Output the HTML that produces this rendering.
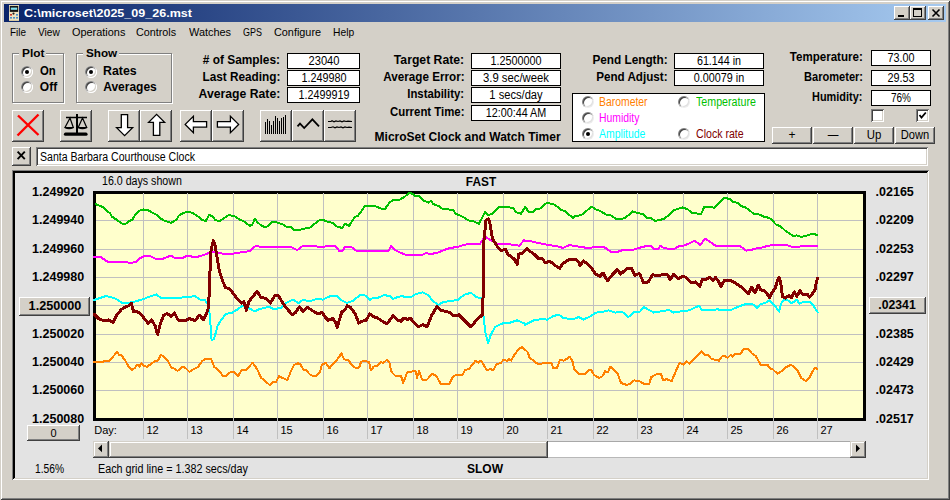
<!DOCTYPE html>
<html><head><meta charset="utf-8"><style>
html,body{margin:0;padding:0;width:950px;height:500px;overflow:hidden;background:#D4D0C8;}
body{position:relative;font-family:"Liberation Sans", sans-serif;}
div{box-sizing:content-box;}
</style></head><body>
<div style="position:absolute;left:0;top:0;width:950px;height:500px;background:#D4D0C8;box-shadow:inset 1px 1px #D4D0C8, inset -1px -1px #404040, inset 2px 2px #fff, inset -2px -2px #808080;"></div>
<div style="position:absolute;left:4px;top:4px;width:942px;height:18px;background:linear-gradient(to right,#0A246A,#A6CAF0);"></div>
<svg style="position:absolute;left:9px;top:5px" width="10" height="16" viewBox="0 0 10 16">
<rect x="0" y="0" width="10" height="16" fill="#EFE3C0"/>
<rect x="0" y="15" width="10" height="1" fill="#D8C8A0"/>
<rect x="0.8" y="0.9" width="8.4" height="6" fill="#141414"/>
<rect x="1.8" y="2.6" width="6.4" height="2.2" fill="#80E0F0"/>
<circle cx="4.5" cy="8.6" r="1.1" fill="#202020"/>
<rect x="1" y="9" width="2" height="1.6" fill="#C83828"/>
<rect x="7" y="9" width="2" height="1.6" fill="#4A90C8"/>
<rect x="1" y="12" width="2" height="1.6" fill="#4A90C8"/>
<rect x="4" y="12" width="2" height="1.6" fill="#4A90C8"/>
<rect x="7" y="12" width="2" height="1.6" fill="#4A90C8"/>
</svg>
<div style="position:absolute;top:8.07px;font-size:11.5px;line-height:11.5px;font-weight:bold;color:#fff;white-space:pre;left:23.8px;transform:scaleX(1.090);transform-origin:left 0;">C:\microset\2025_09_26.mst</div>
<div style="position:absolute;left:894px;top:6px;width:16px;height:14px;background:#D4D0C8;box-shadow:inset -1px -1px #404040, inset 1px 1px #fff, inset -2px -2px #808080, inset 2px 2px #D4D0C8;"></div>
<div style="position:absolute;left:910px;top:6px;width:16px;height:14px;background:#D4D0C8;box-shadow:inset -1px -1px #404040, inset 1px 1px #fff, inset -2px -2px #808080, inset 2px 2px #D4D0C8;"></div>
<div style="position:absolute;left:928px;top:6px;width:16px;height:14px;background:#D4D0C8;box-shadow:inset -1px -1px #404040, inset 1px 1px #fff, inset -2px -2px #808080, inset 2px 2px #D4D0C8;"></div>
<div style="position:absolute;left:898px;top:15px;width:6px;height:2px;background:#000;"></div>
<div style="position:absolute;left:913px;top:8px;width:7px;height:6px;border:1px solid #000;border-top-width:2px;"></div>
<svg style="position:absolute;left:928px;top:6px" width="16" height="14"><path d="M4.5 3.5 L11.5 10.5 M11.5 3.5 L4.5 10.5" stroke="#000" stroke-width="1.6"/></svg>
<div style="position:absolute;top:27.27px;font-size:11.5px;line-height:11.5px;font-weight:normal;color:#000;white-space:pre;left:9.5px;transform:scaleX(0.863);transform-origin:left 0;">File</div>
<div style="position:absolute;top:27.27px;font-size:11.5px;line-height:11.5px;font-weight:normal;color:#000;white-space:pre;left:37.9px;transform:scaleX(0.882);transform-origin:left 0;">View</div>
<div style="position:absolute;top:27.27px;font-size:11.5px;line-height:11.5px;font-weight:normal;color:#000;white-space:pre;left:71.6px;transform:scaleX(0.948);transform-origin:left 0;">Operations</div>
<div style="position:absolute;top:27.27px;font-size:11.5px;line-height:11.5px;font-weight:normal;color:#000;white-space:pre;left:136.4px;transform:scaleX(0.937);transform-origin:left 0;">Controls</div>
<div style="position:absolute;top:27.27px;font-size:11.5px;line-height:11.5px;font-weight:normal;color:#000;white-space:pre;left:188.8px;transform:scaleX(0.949);transform-origin:left 0;">Watches</div>
<div style="position:absolute;top:27.27px;font-size:11.5px;line-height:11.5px;font-weight:normal;color:#000;white-space:pre;left:242.7px;transform:scaleX(0.779);transform-origin:left 0;">GPS</div>
<div style="position:absolute;top:27.27px;font-size:11.5px;line-height:11.5px;font-weight:normal;color:#000;white-space:pre;left:273.7px;transform:scaleX(0.943);transform-origin:left 0;">Configure</div>
<div style="position:absolute;top:27.27px;font-size:11.5px;line-height:11.5px;font-weight:normal;color:#000;white-space:pre;left:332.6px;transform:scaleX(0.893);transform-origin:left 0;">Help</div>
<div style="position:absolute;left:12px;top:53px;width:50px;height:48px;border:1px solid #808080;box-shadow:1px 1px #fff, inset 1px 1px #fff;"></div>
<div style="position:absolute;left:19px;top:48px;width:27px;height:10px;background:#D4D0C8;"></div>
<div style="position:absolute;top:47.87px;font-size:11.5px;line-height:11.5px;font-weight:bold;color:#000;white-space:pre;left:21.6px;transform:scaleX(1.032);transform-origin:left 0;">Plot</div>
<div style="position:absolute;left:21px;top:65.5px;width:12px;height:12px;border-radius:50%;background:#fff;box-shadow:inset 1px 1px 0 0 #808080, inset -1px -1px 0 0 #fff;"></div>
<div style="position:absolute;left:22px;top:66.5px;width:10px;height:10px;border-radius:50%;box-shadow:inset 1px 1px 0 0 #404040, inset -1px -1px 0 0 #D4D0C8;"></div>
<div style="position:absolute;left:25px;top:69.5px;width:4px;height:4px;border-radius:50%;background:#000;"></div>
<div style="position:absolute;top:64.64px;font-size:12px;line-height:12px;font-weight:bold;color:#000;white-space:pre;left:39.8px;transform:scaleX(0.945);transform-origin:left 0;">On</div>
<div style="position:absolute;left:21px;top:81px;width:12px;height:12px;border-radius:50%;background:#fff;box-shadow:inset 1px 1px 0 0 #808080, inset -1px -1px 0 0 #fff;"></div>
<div style="position:absolute;left:22px;top:82px;width:10px;height:10px;border-radius:50%;box-shadow:inset 1px 1px 0 0 #404040, inset -1px -1px 0 0 #D4D0C8;"></div>
<div style="position:absolute;top:81.24px;font-size:12px;line-height:12px;font-weight:bold;color:#000;white-space:pre;left:39.8px;">Off</div>
<div style="position:absolute;left:76px;top:53px;width:94px;height:48px;border:1px solid #808080;box-shadow:1px 1px #fff, inset 1px 1px #fff;"></div>
<div style="position:absolute;left:83px;top:48px;width:36px;height:10px;background:#D4D0C8;"></div>
<div style="position:absolute;top:47.87px;font-size:11.5px;line-height:11.5px;font-weight:bold;color:#000;white-space:pre;left:85.6px;transform:scaleX(1.018);transform-origin:left 0;">Show</div>
<div style="position:absolute;left:84.8px;top:65.5px;width:12px;height:12px;border-radius:50%;background:#fff;box-shadow:inset 1px 1px 0 0 #808080, inset -1px -1px 0 0 #fff;"></div>
<div style="position:absolute;left:85.8px;top:66.5px;width:10px;height:10px;border-radius:50%;box-shadow:inset 1px 1px 0 0 #404040, inset -1px -1px 0 0 #D4D0C8;"></div>
<div style="position:absolute;left:88.8px;top:69.5px;width:4px;height:4px;border-radius:50%;background:#000;"></div>
<div style="position:absolute;top:64.64px;font-size:12px;line-height:12px;font-weight:bold;color:#000;white-space:pre;left:103.2px;transform:scaleX(1.029);transform-origin:left 0;">Rates</div>
<div style="position:absolute;left:84.8px;top:81px;width:12px;height:12px;border-radius:50%;background:#fff;box-shadow:inset 1px 1px 0 0 #808080, inset -1px -1px 0 0 #fff;"></div>
<div style="position:absolute;left:85.8px;top:82px;width:10px;height:10px;border-radius:50%;box-shadow:inset 1px 1px 0 0 #404040, inset -1px -1px 0 0 #D4D0C8;"></div>
<div style="position:absolute;top:81.24px;font-size:12px;line-height:12px;font-weight:bold;color:#000;white-space:pre;left:103.2px;">Averages</div>
<div style="position:absolute;top:54.04px;font-size:12px;line-height:12px;font-weight:bold;color:#000;white-space:pre;right:669.5px;transform:scaleX(0.989);transform-origin:right 0;"># of Samples:</div>
<div style="position:absolute;left:287px;top:53px;width:73px;height:16px;background:#fff;border:1px solid #000;box-sizing:border-box;"></div>
<div style="position:absolute;top:55.42px;font-size:12.5px;line-height:12.5px;font-weight:normal;color:#000;white-space:pre;left:123.5px;width:400px;text-align:center;transform:scaleX(0.892);transform-origin:center 0;">23040</div>
<div style="position:absolute;top:71.04px;font-size:12px;line-height:12px;font-weight:bold;color:#000;white-space:pre;right:669.5px;transform:scaleX(0.982);transform-origin:right 0;">Last Reading:</div>
<div style="position:absolute;left:287px;top:70px;width:73px;height:16px;background:#fff;border:1px solid #000;box-sizing:border-box;"></div>
<div style="position:absolute;top:72.42px;font-size:12.5px;line-height:12.5px;font-weight:normal;color:#000;white-space:pre;left:123.5px;width:400px;text-align:center;transform:scaleX(0.867);transform-origin:center 0;">1.249980</div>
<div style="position:absolute;top:88.04px;font-size:12px;line-height:12px;font-weight:bold;color:#000;white-space:pre;right:669.5px;transform:scaleX(1.018);transform-origin:right 0;">Average Rate:</div>
<div style="position:absolute;left:287px;top:87px;width:73px;height:16px;background:#fff;border:1px solid #000;box-sizing:border-box;"></div>
<div style="position:absolute;top:89.42px;font-size:12.5px;line-height:12.5px;font-weight:normal;color:#000;white-space:pre;left:123.5px;width:400px;text-align:center;transform:scaleX(0.861);transform-origin:center 0;">1.2499919</div>
<div style="position:absolute;top:54.04px;font-size:12px;line-height:12px;font-weight:bold;color:#000;white-space:pre;right:485.5px;transform:scaleX(1.017);transform-origin:right 0;">Target Rate:</div>
<div style="position:absolute;left:471px;top:53px;width:90px;height:16px;background:#fff;border:1px solid #000;box-sizing:border-box;"></div>
<div style="position:absolute;top:55.42px;font-size:12.5px;line-height:12.5px;font-weight:normal;color:#000;white-space:pre;left:316.0px;width:400px;text-align:center;transform:scaleX(0.866);transform-origin:center 0;">1.2500000</div>
<div style="position:absolute;top:71.04px;font-size:12px;line-height:12px;font-weight:bold;color:#000;white-space:pre;right:485.5px;transform:scaleX(0.972);transform-origin:right 0;">Average Error:</div>
<div style="position:absolute;left:471px;top:70px;width:90px;height:16px;background:#fff;border:1px solid #000;box-sizing:border-box;"></div>
<div style="position:absolute;top:72.42px;font-size:12.5px;line-height:12.5px;font-weight:normal;color:#000;white-space:pre;left:316.0px;width:400px;text-align:center;transform:scaleX(0.905);transform-origin:center 0;">3.9 sec/week</div>
<div style="position:absolute;top:88.04px;font-size:12px;line-height:12px;font-weight:bold;color:#000;white-space:pre;right:485.5px;transform:scaleX(0.946);transform-origin:right 0;">Instability:</div>
<div style="position:absolute;left:471px;top:87px;width:90px;height:16px;background:#fff;border:1px solid #000;box-sizing:border-box;"></div>
<div style="position:absolute;top:89.42px;font-size:12.5px;line-height:12.5px;font-weight:normal;color:#000;white-space:pre;left:316.0px;width:400px;text-align:center;transform:scaleX(0.892);transform-origin:center 0;">1 secs/day</div>
<div style="position:absolute;top:106.04px;font-size:12px;line-height:12px;font-weight:bold;color:#000;white-space:pre;right:485.5px;transform:scaleX(0.949);transform-origin:right 0;">Current Time:</div>
<div style="position:absolute;left:471px;top:105px;width:90px;height:16px;background:#fff;border:1px solid #000;box-sizing:border-box;"></div>
<div style="position:absolute;top:107.42px;font-size:12.5px;line-height:12.5px;font-weight:normal;color:#000;white-space:pre;left:316.0px;width:400px;text-align:center;transform:scaleX(0.862);transform-origin:center 0;">12:00:44 AM</div>
<div style="position:absolute;top:130.64px;font-size:12px;line-height:12px;font-weight:bold;color:#000;white-space:pre;left:374.6px;">MicroSet Clock and Watch Timer</div>
<div style="position:absolute;top:54.04px;font-size:12px;line-height:12px;font-weight:bold;color:#000;white-space:pre;right:282.5px;transform:scaleX(0.982);transform-origin:right 0;">Pend Length:</div>
<div style="position:absolute;left:674px;top:53px;width:90px;height:16px;background:#fff;border:1px solid #000;box-sizing:border-box;"></div>
<div style="position:absolute;top:55.42px;font-size:12.5px;line-height:12.5px;font-weight:normal;color:#000;white-space:pre;left:519.0px;width:400px;text-align:center;transform:scaleX(0.859);transform-origin:center 0;">61.144 in</div>
<div style="position:absolute;top:71.04px;font-size:12px;line-height:12px;font-weight:bold;color:#000;white-space:pre;right:282.5px;transform:scaleX(0.970);transform-origin:right 0;">Pend Adjust:</div>
<div style="position:absolute;left:674px;top:70px;width:90px;height:16px;background:#fff;border:1px solid #000;box-sizing:border-box;"></div>
<div style="position:absolute;top:72.42px;font-size:12.5px;line-height:12.5px;font-weight:normal;color:#000;white-space:pre;left:519.0px;width:400px;text-align:center;transform:scaleX(0.863);transform-origin:center 0;">0.00079 in</div>
<div style="position:absolute;top:51.04px;font-size:12px;line-height:12px;font-weight:bold;color:#000;white-space:pre;right:87.29999999999995px;transform:scaleX(0.963);transform-origin:right 0;">Temperature:</div>
<div style="position:absolute;left:871px;top:50px;width:60px;height:16px;background:#fff;border:1px solid #000;box-sizing:border-box;"></div>
<div style="position:absolute;top:52.42px;font-size:12.5px;line-height:12.5px;font-weight:normal;color:#000;white-space:pre;left:701.0px;width:400px;text-align:center;transform:scaleX(0.866);transform-origin:center 0;">73.00</div>
<div style="position:absolute;top:71.04px;font-size:12px;line-height:12px;font-weight:bold;color:#000;white-space:pre;right:87.29999999999995px;transform:scaleX(0.922);transform-origin:right 0;">Barometer:</div>
<div style="position:absolute;left:871px;top:70px;width:60px;height:16px;background:#fff;border:1px solid #000;box-sizing:border-box;"></div>
<div style="position:absolute;top:72.42px;font-size:12.5px;line-height:12.5px;font-weight:normal;color:#000;white-space:pre;left:701.0px;width:400px;text-align:center;transform:scaleX(0.866);transform-origin:center 0;">29.53</div>
<div style="position:absolute;top:91.04px;font-size:12px;line-height:12px;font-weight:bold;color:#000;white-space:pre;right:87.29999999999995px;transform:scaleX(0.908);transform-origin:right 0;">Humidity:</div>
<div style="position:absolute;left:871px;top:90px;width:60px;height:16px;background:#fff;border:1px solid #000;box-sizing:border-box;"></div>
<div style="position:absolute;top:92.42px;font-size:12.5px;line-height:12.5px;font-weight:normal;color:#000;white-space:pre;left:701.0px;width:400px;text-align:center;transform:scaleX(0.796);transform-origin:center 0;">76%</div>
<div style="position:absolute;left:871px;top:109px;width:13px;height:13px;background:#fff;box-shadow:inset 1px 1px #808080, inset -1px -1px #fff, inset 2px 2px #404040, inset -2px -2px #D4D0C8;"></div>
<div style="position:absolute;left:916px;top:109px;width:13px;height:13px;background:#fff;box-shadow:inset 1px 1px #808080, inset -1px -1px #fff, inset 2px 2px #404040, inset -2px -2px #D4D0C8;"></div>
<svg style="position:absolute;left:918px;top:111px" width="9" height="9"><path d="M1.5 4 L3.5 6.5 L7.8 1.5" stroke="#000" stroke-width="1.8" fill="none"/></svg>
<div style="position:absolute;left:772px;top:127px;width:40px;height:17px;background:#D4D0C8;box-shadow:inset -1px -1px #404040, inset 1px 1px #fff, inset -2px -2px #808080, inset 2px 2px #D4D0C8;"></div>
<div style="position:absolute;top:129.14px;font-size:12px;line-height:12px;font-weight:normal;color:#000;white-space:pre;left:592.0px;width:400px;text-align:center;">+</div>
<div style="position:absolute;left:813px;top:127px;width:40px;height:17px;background:#D4D0C8;box-shadow:inset -1px -1px #404040, inset 1px 1px #fff, inset -2px -2px #808080, inset 2px 2px #D4D0C8;"></div>
<div style="position:absolute;top:129.14px;font-size:12px;line-height:12px;font-weight:normal;color:#000;white-space:pre;left:633.0px;width:400px;text-align:center;transform:scaleX(0.893);transform-origin:center 0;">—</div>
<div style="position:absolute;left:854px;top:127px;width:40px;height:17px;background:#D4D0C8;box-shadow:inset -1px -1px #404040, inset 1px 1px #fff, inset -2px -2px #808080, inset 2px 2px #D4D0C8;"></div>
<div style="position:absolute;top:129.14px;font-size:12px;line-height:12px;font-weight:normal;color:#000;white-space:pre;left:674.0px;width:400px;text-align:center;transform:scaleX(0.949);transform-origin:center 0;">Up</div>
<div style="position:absolute;left:895px;top:127px;width:40px;height:17px;background:#D4D0C8;box-shadow:inset -1px -1px #404040, inset 1px 1px #fff, inset -2px -2px #808080, inset 2px 2px #D4D0C8;"></div>
<div style="position:absolute;top:129.14px;font-size:12px;line-height:12px;font-weight:normal;color:#000;white-space:pre;left:715.0px;width:400px;text-align:center;transform:scaleX(0.927);transform-origin:center 0;">Down</div>
<div style="position:absolute;left:572px;top:93px;width:193px;height:49px;background:#fff;border:1px solid #000;box-sizing:border-box;"></div>
<div style="position:absolute;left:581.5px;top:95.5px;width:12px;height:12px;border-radius:50%;background:#fff;box-shadow:inset 1px 1px 0 0 #808080, inset -1px -1px 0 0 #eee;"></div>
<div style="position:absolute;left:582.5px;top:96.5px;width:10px;height:10px;border-radius:50%;box-shadow:inset 1px 1px 0 0 #404040, inset -1px -1px 0 0 #e0e0e0;"></div>
<div style="position:absolute;top:96.34px;font-size:12px;line-height:12px;font-weight:normal;color:#FF8000;white-space:pre;left:599.3px;transform:scaleX(0.867);transform-origin:left 0;">Barometer</div>
<div style="position:absolute;left:677.7px;top:95.5px;width:12px;height:12px;border-radius:50%;background:#fff;box-shadow:inset 1px 1px 0 0 #808080, inset -1px -1px 0 0 #eee;"></div>
<div style="position:absolute;left:678.7px;top:96.5px;width:10px;height:10px;border-radius:50%;box-shadow:inset 1px 1px 0 0 #404040, inset -1px -1px 0 0 #e0e0e0;"></div>
<div style="position:absolute;top:96.34px;font-size:12px;line-height:12px;font-weight:normal;color:#00C000;white-space:pre;left:695.5px;transform:scaleX(0.889);transform-origin:left 0;">Temperature</div>
<div style="position:absolute;left:581.5px;top:111.5px;width:12px;height:12px;border-radius:50%;background:#fff;box-shadow:inset 1px 1px 0 0 #808080, inset -1px -1px 0 0 #eee;"></div>
<div style="position:absolute;left:582.5px;top:112.5px;width:10px;height:10px;border-radius:50%;box-shadow:inset 1px 1px 0 0 #404040, inset -1px -1px 0 0 #e0e0e0;"></div>
<div style="position:absolute;top:112.34px;font-size:12px;line-height:12px;font-weight:normal;color:#FF00FF;white-space:pre;left:599.3px;transform:scaleX(0.865);transform-origin:left 0;">Humidity</div>
<div style="position:absolute;left:581.5px;top:127.5px;width:12px;height:12px;border-radius:50%;background:#fff;box-shadow:inset 1px 1px 0 0 #808080, inset -1px -1px 0 0 #eee;"></div>
<div style="position:absolute;left:582.5px;top:128.5px;width:10px;height:10px;border-radius:50%;box-shadow:inset 1px 1px 0 0 #404040, inset -1px -1px 0 0 #e0e0e0;"></div>
<div style="position:absolute;left:585.5px;top:131.5px;width:4px;height:4px;border-radius:50%;background:#000;"></div>
<div style="position:absolute;top:128.34px;font-size:12px;line-height:12px;font-weight:normal;color:#00FFFF;white-space:pre;left:599.3px;transform:scaleX(0.869);transform-origin:left 0;">Amplitude</div>
<div style="position:absolute;left:677.7px;top:127.5px;width:12px;height:12px;border-radius:50%;background:#fff;box-shadow:inset 1px 1px 0 0 #808080, inset -1px -1px 0 0 #eee;"></div>
<div style="position:absolute;left:678.7px;top:128.5px;width:10px;height:10px;border-radius:50%;box-shadow:inset 1px 1px 0 0 #404040, inset -1px -1px 0 0 #e0e0e0;"></div>
<div style="position:absolute;top:128.34px;font-size:12px;line-height:12px;font-weight:normal;color:#800000;white-space:pre;left:695.5px;transform:scaleX(0.883);transform-origin:left 0;">Clock rate</div>
<div style="position:absolute;left:12px;top:110px;width:32px;height:32px;background:#D4D0C8;box-shadow:inset -1px -1px #404040, inset 1px 1px #fff, inset -2px -2px #808080, inset 2px 2px #D4D0C8;"></div>
<div style="position:absolute;left:60px;top:110px;width:32px;height:32px;background:#D4D0C8;box-shadow:inset -1px -1px #404040, inset 1px 1px #fff, inset -2px -2px #808080, inset 2px 2px #D4D0C8;"></div>
<div style="position:absolute;left:108px;top:110px;width:32px;height:32px;background:#D4D0C8;box-shadow:inset -1px -1px #404040, inset 1px 1px #fff, inset -2px -2px #808080, inset 2px 2px #D4D0C8;"></div>
<div style="position:absolute;left:140px;top:110px;width:32px;height:32px;background:#D4D0C8;box-shadow:inset -1px -1px #404040, inset 1px 1px #fff, inset -2px -2px #808080, inset 2px 2px #D4D0C8;"></div>
<div style="position:absolute;left:180px;top:110px;width:32px;height:32px;background:#D4D0C8;box-shadow:inset -1px -1px #404040, inset 1px 1px #fff, inset -2px -2px #808080, inset 2px 2px #D4D0C8;"></div>
<div style="position:absolute;left:212px;top:110px;width:32px;height:32px;background:#D4D0C8;box-shadow:inset -1px -1px #404040, inset 1px 1px #fff, inset -2px -2px #808080, inset 2px 2px #D4D0C8;"></div>
<div style="position:absolute;left:260px;top:110px;width:32px;height:32px;background:#D4D0C8;box-shadow:inset -1px -1px #404040, inset 1px 1px #fff, inset -2px -2px #808080, inset 2px 2px #D4D0C8;"></div>
<div style="position:absolute;left:292px;top:110px;width:32px;height:32px;background:#D4D0C8;box-shadow:inset -1px -1px #404040, inset 1px 1px #fff, inset -2px -2px #808080, inset 2px 2px #D4D0C8;"></div>
<div style="position:absolute;left:324px;top:110px;width:32px;height:32px;background:#D4D0C8;box-shadow:inset -1px -1px #404040, inset 1px 1px #fff, inset -2px -2px #808080, inset 2px 2px #D4D0C8;"></div>
<svg style="position:absolute;left:12px;top:110px" width="32" height="32"><path d="M6 5.5 L26.5 25 M26.5 4.5 L5.5 25.5" stroke="#FF0000" stroke-width="2.4"/></svg>
<svg style="position:absolute;left:60px;top:110px" width="32" height="32">
<path d="M17 4 V23.5" stroke="#000" stroke-width="2"/>
<path d="M6 7.5 H27" stroke="#000" stroke-width="1.5"/>
<path d="M10 8 L5 17.5 H13.3 Z M22.5 8 L18.2 17.5 H26.7 Z" stroke="#000" stroke-width="1.2" fill="none"/>
<path d="M5 17.8 Q9 19.5 13.3 17.8 M18.2 17.8 Q22.5 19.5 26.7 17.8" stroke="#000" stroke-width="1.2" fill="none"/>
<path d="M5.5 24.2 H26" stroke="#000" stroke-width="3.2" stroke-linecap="round"/>
</svg>
<svg style="position:absolute;left:108px;top:110px" width="32" height="32"><path d="M13.3 4.6 H19.6 V17.6 H24.6 L16.6 25.6 L8.6 17.6 H13.3 Z" stroke="#000" stroke-width="1.3" fill="#fff"/></svg>
<svg style="position:absolute;left:140px;top:110px" width="32" height="32"><path d="M16.6 4.4 L24.6 12.4 H19.8 V25.4 H13.4 V12.4 H8.6 Z" stroke="#000" stroke-width="1.3" fill="#fff"/></svg>
<svg style="position:absolute;left:180px;top:110px" width="32" height="32"><path d="M5.2 14.4 L13.4 6.4 V11.6 H26.6 V17.2 H13.4 V22.6 Z" stroke="#000" stroke-width="1.3" fill="#fff"/></svg>
<svg style="position:absolute;left:212px;top:110px" width="32" height="32"><path d="M26.6 14.4 L18.4 6.4 V11.6 H5.4 V17.2 H18.4 V22.6 Z" stroke="#000" stroke-width="1.3" fill="#fff"/></svg>
<svg style="position:absolute;left:260px;top:110px" width="32" height="32"><path d="M5.5 12 V24 M7.5 9 V24 M9.5 11 V24 M11.5 15 V24 M13.5 11 V24 M15.5 6 V24 M17.5 8 V24 M19.5 11 V24 M21.5 8 V24 M23.5 7 V24 M25.5 5 V24 " stroke="#000" stroke-width="1"/></svg>
<svg style="position:absolute;left:292px;top:110px" width="32" height="32"><path d="M5.5 16.3 L8 13.6 L12.2 18 L20.4 9.4 L27 16.3" stroke="#000" stroke-width="1.8" fill="none"/></svg>
<svg style="position:absolute;left:324px;top:110px" width="32" height="32"><path d="M4 11.5 L7 11.5 L8 10.8 L10 11.8 L12 11 L14 11.5 L16 11 L18 11.8 L20 11 L22 11.5 L24 11.2 L28 11.5 M4 17.5 L7 17.5 L9 16.8 L11 17.8 L13 17 L15 17.5 L17 17 L19 17.8 L21 17 L23 17.5 L25 17.2 L28 17.5" stroke="#000" stroke-width="1.2" fill="none"/></svg>
<div style="position:absolute;left:12px;top:147px;width:19px;height:19px;background:#D4D0C8;box-shadow:inset -1px -1px #404040, inset 1px 1px #fff, inset -2px -2px #808080, inset 2px 2px #D4D0C8;"></div>
<svg style="position:absolute;left:12px;top:147px" width="19" height="19"><path d="M5.6 4.6 L12.8 12.2 M12.8 4.6 L5.6 12.2" stroke="#000" stroke-width="1.9"/></svg>
<div style="position:absolute;left:36px;top:147px;width:892px;height:19px;background:#fff;box-shadow:inset 1px 1px #808080, inset -1px -1px #fff, inset 2px 2px #404040, inset -2px -2px #D4D0C8;"></div>
<div style="position:absolute;top:150.84px;font-size:12px;line-height:12px;font-weight:normal;color:#000;white-space:pre;left:39.5px;transform:scaleX(0.880);transform-origin:left 0;">Santa Barbara Courthouse Clock</div>
<div style="position:absolute;left:12px;top:170px;width:917px;height:310px;background:#E3E3E3;box-shadow:inset 1px 1px #808080, inset -1px -1px #fff, inset 2px 2px #000, inset -2px -2px #D4D0C8, inset 3px 3px #000;"></div>
<div style="position:absolute;left:93px;top:191px;width:773px;height:230px;background:#FFFFCC;border:3px solid #000;box-sizing:border-box;"></div>
<svg style="position:absolute;left:0;top:0" width="950" height="500"><rect x="143" y="193" width="1" height="246" fill="#C0C0C0"/><rect x="187" y="193" width="1" height="246" fill="#C0C0C0"/><rect x="233" y="193" width="1" height="246" fill="#C0C0C0"/><rect x="277" y="193" width="1" height="246" fill="#C0C0C0"/><rect x="323" y="193" width="1" height="246" fill="#C0C0C0"/><rect x="367" y="193" width="1" height="246" fill="#C0C0C0"/><rect x="413" y="193" width="1" height="246" fill="#C0C0C0"/><rect x="457" y="193" width="1" height="246" fill="#C0C0C0"/><rect x="503" y="193" width="1" height="246" fill="#C0C0C0"/><rect x="547" y="193" width="1" height="246" fill="#C0C0C0"/><rect x="593" y="193" width="1" height="246" fill="#C0C0C0"/><rect x="637" y="193" width="1" height="246" fill="#C0C0C0"/><rect x="683" y="193" width="1" height="246" fill="#C0C0C0"/><rect x="727" y="193" width="1" height="246" fill="#C0C0C0"/><rect x="773" y="193" width="1" height="246" fill="#C0C0C0"/><rect x="817" y="193" width="1" height="246" fill="#C0C0C0"/><rect x="96" y="220" width="767" height="1" fill="#C0C0C0"/><rect x="96" y="249" width="767" height="1" fill="#C0C0C0"/><rect x="96" y="277" width="767" height="1" fill="#C0C0C0"/><rect x="96" y="305" width="767" height="1" fill="#C0C0C0"/><rect x="96" y="334" width="767" height="1" fill="#C0C0C0"/><rect x="96" y="362" width="767" height="1" fill="#C0C0C0"/><rect x="96" y="390" width="767" height="1" fill="#C0C0C0"/><g fill="none" stroke-linejoin="round" stroke-linecap="round" clip-path="url(#pc)" shape-rendering="crispEdges"><clipPath id="pc"><rect x="93" y="191" width="773" height="230"/></clipPath><polyline points="94.0,362.0 101.9,362.0 105.8,360.7 109.1,360.7 112.4,357.4 117.0,352.1 119.0,354.7 121.6,355.4 125.6,361.3 129.5,367.9 132.2,369.9 134.8,367.9 137.4,364.6 139.4,366.6 141.4,363.3 144.0,366.3 147.3,366.6 151.9,363.3 155.2,360.7 157.8,360.7 161.1,354.7 165.7,358.4 167.7,360.7 171.6,367.9 174.3,368.6 177.6,370.8 182.8,366.6 186.1,368.6 189.4,371.8 194.0,368.9 197.9,367.2 201.9,361.3 205.8,358.7 211.1,358.7 214.4,367.2 219.0,370.5 222.9,375.8 226.2,375.8 230.8,371.8 234.1,371.8 238.1,376.1 241.4,370.5 245.3,370.3 249.3,366.6 252.6,362.6 257.2,369.2 261.1,377.8 265.1,381.1 269.7,385.0 272.9,381.7 276.2,381.7 278.9,376.1 283.5,378.4 287.4,380.0 290.7,371.8 294.0,365.0 297.9,363.3 300.6,364.6 303.2,369.5 305.8,369.5 309.8,374.5 313.1,376.1 316.4,375.8 320.3,371.2 321.6,365.3 325.6,362.6 329.5,368.2 333.5,363.3 336.1,361.3 341.4,353.4 344.0,359.3 348.6,360.0 351.2,364.6 355.2,367.6 359.1,367.6 361.1,362.0 363.7,360.7 369.0,362.0 371.0,370.5 373.6,366.6 377.6,365.5 380.8,362.0 383.5,362.9 386.8,359.7 389.4,362.6 391.4,371.8 395.3,375.8 401.2,376.4 403.2,383.0 407.2,372.5 411.1,371.6 415.7,371.2 417.0,377.8 419.0,371.2 422.3,379.7 426.9,379.7 432.2,373.8 436.1,375.8 440.7,383.7 445.3,383.9 449.3,383.7 453.2,376.4 457.2,374.5 462.4,375.1 465.1,369.9 469.0,369.2 472.3,364.6 475.6,360.7 478.2,362.6 480.8,360.7 483.5,364.6 486.8,370.5 490.1,368.9 493.3,370.5 496.6,363.9 500.6,363.3 503.2,360.0 507.2,360.7 509.1,358.7 511.1,360.7 514.4,354.7 519.0,348.8 522.3,347.1 524.9,349.5 527.6,352.1 529.5,357.4 533.5,360.7 536.1,362.9 540.1,364.6 543.3,362.9 546.6,363.3 551.2,362.9 553.2,367.9 557.2,367.6 559.8,360.0 563.7,360.7 567.0,358.7 569.7,356.7 572.3,360.7 574.3,369.2 579.5,374.5 584.8,373.8 588.7,369.9 591.4,370.3 594.0,375.1 599.3,377.8 602.6,376.1 605.2,371.2 607.8,372.5 610.4,366.6 613.7,369.9 617.7,373.8 621.0,383.0 626.9,385.0 630.2,383.7 634.1,380.4 639.4,381.1 644.0,383.9 649.3,383.9 651.2,377.1 655.8,374.5 661.1,374.2 663.1,380.4 666.4,379.1 671.6,381.1 675.6,371.8 679.5,362.9 683.5,364.6 686.8,361.3 689.4,363.9 695.3,357.4 701.9,351.4 704.5,354.7 707.8,355.0 711.8,359.3 716.4,359.7 719.0,360.7 721.6,356.7 724.9,355.8 727.6,358.0 730.8,354.7 732.8,356.7 734.8,353.7 740.7,353.7 743.3,349.2 747.9,348.8 751.9,353.4 755.8,356.1 761.1,365.3 767.7,365.0 770.3,368.9 772.9,369.5 777.6,373.8 782.8,370.5 786.1,367.2 790.7,365.0 794.0,366.6 797.9,371.2 801.2,377.8 805.8,381.1 809.8,376.8 813.7,369.5 815.7,367.6 817.0,369.5" stroke="#FF8000" stroke-width="2"/><polyline points="95.6,204.1 100.4,206.0 103.6,207.6 106.8,210.8 110.0,213.2 111.6,216.4 116.4,219.6 122.0,223.6 126.0,223.6 129.2,221.2 132.4,219.6 135.6,214.0 138.8,210.8 143.6,209.5 148.4,210.3 153.2,213.2 156.4,214.8 159.6,218.0 164.4,220.7 170.8,222.8 174.0,221.2 177.2,218.8 178.8,215.6 182.8,213.2 188.4,211.6 193.2,213.2 198.0,216.4 202.8,220.4 206.0,220.7 209.2,214.8 212.4,216.4 215.6,220.4 219.0,220.7 220.4,220.7 223.6,218.5 229.2,214.8 231.6,215.9 234.0,215.6 236.4,217.5 238.8,219.1 244.4,221.7 250.0,226.0 252.4,224.4 254.8,218.8 258.0,222.8 262.0,226.0 265.2,227.1 268.4,226.0 272.4,221.7 275.6,222.0 279.6,223.3 282.8,224.4 286.0,226.5 290.8,227.1 294.0,229.7 300.4,229.7 305.2,228.4 310.0,227.6 314.8,223.6 319.6,220.1 322.8,219.6 326.0,221.2 332.4,222.8 335.6,226.0 339.0,227.1 342.0,227.9 345.2,223.7 349.2,225.8 354.8,217.0 358.0,215.7 365.2,205.8 374.0,205.5 382.0,209.0 385.2,208.7 389.2,202.9 393.2,199.9 399.6,199.7 404.4,197.0 409.2,192.7 412.4,193.8 414.8,195.9 419.6,196.2 422.8,200.2 428.4,202.6 430.8,201.0 433.2,203.9 439.6,206.6 442.8,209.0 447.6,209.3 453.2,210.3 455.6,213.5 459.0,215.1 463.6,217.2 468.4,220.4 473.2,221.2 478.8,223.9 482.0,218.0 485.2,211.6 487.6,214.8 491.6,214.3 495.6,210.0 499.6,206.8 505.2,206.8 509.2,207.3 513.2,208.4 516.4,212.4 521.2,213.7 525.2,206.8 528.4,211.6 534.0,211.6 535.6,209.2 540.4,208.4 546.8,202.8 553.2,204.1 556.4,206.0 561.2,210.0 564.4,210.8 569.2,214.8 573.2,218.0 575.6,215.6 579.0,215.6 583.6,213.8 586.8,210.6 591.6,206.6 596.4,209.8 599.6,210.6 606.0,214.6 610.8,215.4 617.2,219.4 620.4,219.4 625.2,217.8 629.2,214.6 632.4,211.4 637.2,213.0 642.8,214.1 646.8,217.8 650.8,217.8 654.8,221.0 660.4,219.9 664.4,218.6 668.4,215.4 673.2,210.6 678.0,208.7 682.8,207.4 687.6,209.3 692.4,213.0 699.0,213.8 701.2,213.8 704.4,206.6 709.2,207.1 714.8,207.7 718.0,203.9 721.2,201.0 724.4,197.8 730.0,199.1 733.2,201.8 738.0,202.9 740.4,205.8 745.2,207.4 748.4,209.3 753.2,213.5 759.6,214.6 764.4,217.0 769.2,217.8 772.4,220.5 775.6,224.2 781.2,226.9 785.2,230.6 790.0,233.8 793.2,236.2 796.4,235.4 801.2,237.0 806.0,235.9 812.4,233.8 817.2,234.9" stroke="#00C000" stroke-width="2"/><polyline points="94.0,256.9 100.4,256.9 103.6,259.1 107.6,261.7 114.8,262.0 126.0,262.0 130.8,263.1 135.6,262.0 140.4,258.0 145.2,255.6 150.0,255.9 154.8,258.5 162.8,258.8 167.6,256.9 170.8,255.6 174.0,257.5 183.6,257.5 186.8,255.6 190.0,256.4 197.2,256.9 206.8,254.0 210.4,251.6 217.6,252.8 228.4,254.5 238.0,252.8 250.0,251.1 255.9,245.6 261.9,247.3 271.5,246.8 290.8,246.8 297.2,250.0 302.8,246.0 314.8,246.0 319.6,247.1 329.2,246.0 335.6,246.0 339.0,250.8 342.8,250.6 345.2,246.6 350.8,246.6 357.2,251.4 377.2,251.4 380.4,250.9 388.4,251.4 391.3,245.8 394.8,249.8 401.2,253.0 406.0,254.9 422.8,254.6 426.0,253.0 430.0,254.1 436.4,253.0 442.8,250.6 447.6,248.7 452.4,247.7 459.0,246.6 460.4,246.0 470.0,243.6 474.8,244.4 479.6,244.4 485.2,236.4 490.8,240.4 497.2,243.6 510.0,244.4 519.6,245.7 523.6,240.4 530.8,241.2 538.8,243.1 545.2,244.4 550.0,245.2 556.4,246.0 562.8,247.9 569.2,245.2 575.6,246.0 579.0,246.8 582.0,246.6 585.2,247.7 591.6,247.7 593.2,246.6 602.8,246.6 606.0,248.2 610.8,251.9 617.2,251.9 622.0,250.3 633.2,249.8 638.0,248.2 646.0,246.1 650.8,246.1 654.0,249.0 658.0,249.0 660.4,245.8 663.6,247.9 670.0,249.0 674.0,249.0 678.0,246.6 684.4,245.5 689.2,243.4 694.8,240.7 699.0,244.2 700.4,245.0 705.2,238.6 708.4,240.7 715.6,245.8 740.4,246.3 746.0,250.6 750.0,250.3 754.8,248.7 762.8,247.4 767.6,245.8 774.0,245.0 786.8,245.0 791.6,246.6 799.6,246.6 802.8,245.8 817.2,245.8" stroke="#FF00FF" stroke-width="2"/><polyline points="94.0,300.1 98.8,298.4 106.0,296.0 113.2,297.7 118.0,300.1 122.8,303.2 130.0,302.5 134.8,301.5 142.0,299.6 149.2,296.7 156.4,294.3 161.2,298.4 170.8,298.4 180.4,297.7 190.0,296.7 190.0,297.1 194.8,295.9 199.6,299.5 204.4,299.5 208.0,304.3 209.7,313.9 211.6,340.3 214.0,339.1 217.6,325.9 221.2,319.9 226.0,313.9 232.0,312.7 238.0,309.1 242.8,305.5 248.8,307.9 254.7,311.5 259.5,309.1 269.1,306.7 273.9,309.1 281.1,307.9 285.9,303.1 293.1,299.6 298.5,303.2 303.0,299.6 307.5,301.1 312.0,300.5 317.4,298.7 322.8,299.6 328.2,296.9 331.8,295.7 337.2,296.0 340.8,300.0 347.1,302.9 353.4,300.5 360.6,294.6 366.1,295.7 369.7,300.0 373.3,297.8 376.9,298.2 384.1,295.1 389.5,296.0 393.1,298.7 398.5,296.9 402.1,296.0 405.7,297.5 411.6,296.8 416.0,293.9 422.6,292.4 428.1,295.0 432.5,300.5 438.0,304.9 443.5,302.1 449.0,301.2 457.8,299.9 464.4,294.6 471.0,292.8 476.5,297.2 482.0,298.3 483.1,312.6 485.3,332.4 488.2,343.4 490.8,334.6 495.2,326.9 501.8,323.6 510.6,322.5 517.2,320.3 523.8,323.2 525.0,324.7 529.4,322.5 533.8,320.3 538.2,319.7 542.6,318.8 547.0,319.7 553.6,315.9 559.1,314.8 563.5,318.1 573.4,319.2 578.9,317.0 583.3,319.7 591.0,315.9 595.4,312.6 600.9,312.2 608.6,310.4 615.2,312.6 621.8,311.5 628.4,317.0 635.0,311.5 639.4,312.2 643.8,307.1 653.8,312.6 660.4,311.5 669.2,310.0 673.6,312.6 680.2,311.5 689.0,310.4 693.4,308.2 698.9,306.0 702.2,310.0 708.8,310.4 717.6,309.3 722.0,310.4 730.8,310.0 737.4,307.1 746.2,303.8 752.8,304.3 757.2,308.2 760.0,304.4 765.6,302.8 769.6,300.4 773.6,304.4 776.8,308.4 779.2,311.6 780.8,304.4 783.2,300.4 788.0,300.4 791.2,302.8 794.4,302.0 796.8,299.6 799.2,303.6 803.2,302.0 809.6,302.0 812.8,304.4 815.2,308.4 817.6,312.1" stroke="#00FFFF" stroke-width="2"/><polyline points="94.0,314.0 98.8,318.8 103.6,320.7 108.4,320.0 113.2,322.4 116.8,315.2 121.6,309.2 125.2,307.3 128.8,305.6 131.2,303.2 133.6,311.6 137.2,311.6 140.8,314.0 144.4,318.8 148.0,323.1 151.6,320.0 155.2,326.0 157.6,334.4 160.0,324.8 163.6,315.2 167.2,313.5 170.8,316.4 174.4,312.8 178.0,320.0 182.8,320.7 186.4,320.0 190.0,318.3 190.0,318.7 194.8,320.6 199.6,315.1 203.2,319.9 206.8,312.7 208.7,306.7 209.7,278.0 211.1,249.2 213.3,240.8 215.2,245.6 216.9,256.4 219.3,270.8 222.4,280.4 225.5,287.6 229.6,288.8 233.2,293.5 238.0,299.5 241.6,303.1 244.0,301.9 246.4,310.3 248.8,301.9 252.4,297.1 257.1,291.2 260.7,297.1 265.5,298.3 270.3,303.1 275.1,295.2 278.7,295.9 283.5,304.3 292.2,314.9 295.8,312.2 299.4,306.8 303.0,311.3 307.5,307.2 312.0,310.4 318.3,314.0 321.9,312.2 325.5,317.6 328.2,320.3 332.7,318.5 335.4,322.1 337.2,327.5 339.0,321.2 341.7,312.2 345.3,309.5 347.1,305.9 350.7,307.7 355.2,314.0 358.8,323.0 362.4,321.2 366.1,320.3 369.7,314.0 373.3,316.7 376.9,317.6 382.3,321.2 386.8,323.9 393.1,315.8 397.6,320.3 401.2,321.2 403.9,318.0 407.5,319.4 410.5,318.1 413.8,322.5 418.2,326.9 422.6,324.7 427.0,326.9 431.4,315.9 436.9,306.5 441.3,310.4 445.7,311.5 450.1,312.6 453.4,315.9 458.9,314.8 463.3,319.2 466.6,322.5 471.0,326.9 475.4,321.4 479.8,317.0 482.5,314.8 483.1,295.0 483.8,242.2 486.0,220.4 488.4,218.8 490.0,223.6 492.4,238.0 494.0,241.2 498.0,247.6 501.2,250.8 505.2,249.2 507.6,254.0 510.8,256.4 514.0,258.8 517.2,264.4 518.8,254.0 522.0,253.2 526.8,248.4 529.2,250.8 534.0,254.0 538.8,258.8 542.0,258.0 545.2,262.8 550.0,261.2 554.8,265.2 559.6,268.4 562.8,263.6 569.2,259.6 575.6,259.6 579.0,262.0 580.0,266.0 583.3,260.9 587.7,264.2 592.1,268.6 595.4,274.1 599.8,276.3 603.1,273.0 607.5,280.7 611.9,275.2 617.4,269.7 620.7,274.1 627.3,268.2 631.7,268.6 635.0,275.2 639.4,273.5 643.8,282.9 648.2,281.8 652.7,274.8 657.1,275.7 662.6,274.8 667.0,274.1 670.3,279.6 673.6,274.1 678.0,278.5 683.5,276.3 686.8,277.9 691.2,282.9 695.6,281.8 700.0,286.2 702.2,279.6 706.6,279.2 709.9,277.0 713.2,280.7 715.4,277.4 718.7,281.8 720.9,286.7 724.2,280.7 729.7,280.1 735.2,282.9 741.8,287.3 748.4,293.9 751.7,287.3 755.0,292.8 758.3,285.1 760.8,290.0 764.0,290.8 767.2,294.0 769.6,297.7 772.0,292.4 775.2,288.4 777.6,279.6 779.2,277.2 780.8,283.6 782.4,296.4 785.6,298.0 788.8,295.6 791.2,298.0 794.4,291.9 796.8,296.4 800.0,290.8 803.2,294.8 807.2,294.0 809.6,297.2 812.8,293.2 815.2,289.2 816.5,281.2 817.9,278.0" stroke="#800000" stroke-width="3"/></g></svg>
<div style="position:absolute;top:175.42px;font-size:12.5px;line-height:12.5px;font-weight:normal;color:#000;white-space:pre;left:101.8px;transform:scaleX(0.851);transform-origin:left 0;">16.0 days shown</div>
<div style="position:absolute;top:176.22px;font-size:12.5px;line-height:12.5px;font-weight:bold;color:#000;white-space:pre;left:281.3px;width:400px;text-align:center;transform:scaleX(0.947);transform-origin:center 0;">FAST</div>
<div style="position:absolute;top:185.72px;font-size:12.5px;line-height:12.5px;font-weight:bold;color:#000;white-space:pre;right:865.8px;">1.249920</div>
<div style="position:absolute;top:185.72px;font-size:12.5px;line-height:12.5px;font-weight:bold;color:#000;white-space:pre;left:875.6px;">.02165</div>
<div style="position:absolute;top:213.72px;font-size:12.5px;line-height:12.5px;font-weight:bold;color:#000;white-space:pre;right:865.8px;">1.249940</div>
<div style="position:absolute;top:213.72px;font-size:12.5px;line-height:12.5px;font-weight:bold;color:#000;white-space:pre;left:875.6px;">.02209</div>
<div style="position:absolute;top:242.72px;font-size:12.5px;line-height:12.5px;font-weight:bold;color:#000;white-space:pre;right:865.8px;">1.249960</div>
<div style="position:absolute;top:242.72px;font-size:12.5px;line-height:12.5px;font-weight:bold;color:#000;white-space:pre;left:875.6px;">.02253</div>
<div style="position:absolute;top:270.72px;font-size:12.5px;line-height:12.5px;font-weight:bold;color:#000;white-space:pre;right:865.8px;">1.249980</div>
<div style="position:absolute;top:270.72px;font-size:12.5px;line-height:12.5px;font-weight:bold;color:#000;white-space:pre;left:875.6px;">.02297</div>
<div style="position:absolute;top:327.72px;font-size:12.5px;line-height:12.5px;font-weight:bold;color:#000;white-space:pre;right:865.8px;">1.250020</div>
<div style="position:absolute;top:327.72px;font-size:12.5px;line-height:12.5px;font-weight:bold;color:#000;white-space:pre;left:875.6px;">.02385</div>
<div style="position:absolute;top:355.72px;font-size:12.5px;line-height:12.5px;font-weight:bold;color:#000;white-space:pre;right:865.8px;">1.250040</div>
<div style="position:absolute;top:355.72px;font-size:12.5px;line-height:12.5px;font-weight:bold;color:#000;white-space:pre;left:875.6px;">.02429</div>
<div style="position:absolute;top:383.72px;font-size:12.5px;line-height:12.5px;font-weight:bold;color:#000;white-space:pre;right:865.8px;">1.250060</div>
<div style="position:absolute;top:383.72px;font-size:12.5px;line-height:12.5px;font-weight:bold;color:#000;white-space:pre;left:875.6px;">.02473</div>
<div style="position:absolute;top:412.72px;font-size:12.5px;line-height:12.5px;font-weight:bold;color:#000;white-space:pre;right:865.8px;">1.250080</div>
<div style="position:absolute;top:412.72px;font-size:12.5px;line-height:12.5px;font-weight:bold;color:#000;white-space:pre;left:875.6px;">.02517</div>
<div style="position:absolute;left:19px;top:297px;width:71px;height:19px;background:#D4D0C8;box-shadow:inset -1px -1px #404040, inset 1px 1px #fff, inset -2px -2px #808080, inset 2px 2px #D4D0C8;"></div>
<div style="position:absolute;top:300.42px;font-size:12.5px;line-height:12.5px;font-weight:bold;color:#000;white-space:pre;left:-145.4px;width:400px;text-align:center;transform:scaleX(1.013);transform-origin:center 0;">1.250000</div>
<div style="position:absolute;left:869px;top:297px;width:57px;height:17px;background:#D4D0C8;box-shadow:inset -1px -1px #404040, inset 1px 1px #fff, inset -2px -2px #808080, inset 2px 2px #D4D0C8;"></div>
<div style="position:absolute;top:299.12px;font-size:12.5px;line-height:12.5px;font-weight:bold;color:#000;white-space:pre;left:696.5px;width:400px;text-align:center;transform:scaleX(0.978);transform-origin:center 0;">.02341</div>
<div style="position:absolute;left:27px;top:425px;width:53px;height:16px;background:#D4D0C8;box-shadow:inset -1px -1px #404040, inset 1px 1px #fff, inset -2px -2px #808080, inset 2px 2px #D4D0C8;"></div>
<div style="position:absolute;top:427.69px;font-size:11px;line-height:11px;font-weight:normal;color:#000;white-space:pre;left:-146.5px;width:400px;text-align:center;">0</div>
<div style="position:absolute;top:425.39px;font-size:11px;line-height:11px;font-weight:normal;color:#000;white-space:pre;left:94.3px;">Day:</div>
<div style="position:absolute;top:425.19px;font-size:11px;line-height:11px;font-weight:normal;color:#000;white-space:pre;left:146.5px;">12</div>
<div style="position:absolute;top:425.19px;font-size:11px;line-height:11px;font-weight:normal;color:#000;white-space:pre;left:190.5px;">13</div>
<div style="position:absolute;top:425.19px;font-size:11px;line-height:11px;font-weight:normal;color:#000;white-space:pre;left:236.5px;">14</div>
<div style="position:absolute;top:425.19px;font-size:11px;line-height:11px;font-weight:normal;color:#000;white-space:pre;left:280.5px;">15</div>
<div style="position:absolute;top:425.19px;font-size:11px;line-height:11px;font-weight:normal;color:#000;white-space:pre;left:326.5px;">16</div>
<div style="position:absolute;top:425.19px;font-size:11px;line-height:11px;font-weight:normal;color:#000;white-space:pre;left:370.5px;">17</div>
<div style="position:absolute;top:425.19px;font-size:11px;line-height:11px;font-weight:normal;color:#000;white-space:pre;left:416.5px;">18</div>
<div style="position:absolute;top:425.19px;font-size:11px;line-height:11px;font-weight:normal;color:#000;white-space:pre;left:460.5px;">19</div>
<div style="position:absolute;top:425.19px;font-size:11px;line-height:11px;font-weight:normal;color:#000;white-space:pre;left:506.5px;">20</div>
<div style="position:absolute;top:425.19px;font-size:11px;line-height:11px;font-weight:normal;color:#000;white-space:pre;left:550.5px;">21</div>
<div style="position:absolute;top:425.19px;font-size:11px;line-height:11px;font-weight:normal;color:#000;white-space:pre;left:596.5px;">22</div>
<div style="position:absolute;top:425.19px;font-size:11px;line-height:11px;font-weight:normal;color:#000;white-space:pre;left:640.5px;">23</div>
<div style="position:absolute;top:425.19px;font-size:11px;line-height:11px;font-weight:normal;color:#000;white-space:pre;left:686.5px;">24</div>
<div style="position:absolute;top:425.19px;font-size:11px;line-height:11px;font-weight:normal;color:#000;white-space:pre;left:730.5px;">25</div>
<div style="position:absolute;top:425.19px;font-size:11px;line-height:11px;font-weight:normal;color:#000;white-space:pre;left:776.5px;">26</div>
<div style="position:absolute;top:425.19px;font-size:11px;line-height:11px;font-weight:normal;color:#000;white-space:pre;left:820.5px;">27</div>
<div style="position:absolute;left:93px;top:441px;width:772px;height:17px;background:#fff;box-shadow:inset 0 1px #A8A8A8, inset 0 -1px #B8B8B8;"></div>
<div style="position:absolute;left:93px;top:441px;width:16px;height:17px;background:#D4D0C8;box-shadow:inset -1px -1px #404040, inset 1px 1px #D4D0C8, inset -2px -2px #808080, inset 2px 2px #fff;"></div>
<svg style="position:absolute;left:93px;top:441px" width="16" height="17"><path d="M5 7.4 L9 3.6 V11.2 Z" fill="#000"/></svg>
<div style="position:absolute;left:109px;top:441px;width:439px;height:17px;background:#D4D0C8;box-shadow:inset -1px -1px #404040, inset 1px 1px #D4D0C8, inset -2px -2px #808080, inset 2px 2px #fff;"></div>
<div style="position:absolute;left:850px;top:441px;width:16px;height:17px;background:#D4D0C8;box-shadow:inset -1px -1px #404040, inset 1px 1px #D4D0C8, inset -2px -2px #808080, inset 2px 2px #fff;"></div>
<svg style="position:absolute;left:850px;top:441px" width="16" height="17"><path d="M10 7.4 L6 3.6 V11.2 Z" fill="#000"/></svg>
<div style="position:absolute;top:462.84px;font-size:12px;line-height:12px;font-weight:normal;color:#000;white-space:pre;left:34.5px;transform:scaleX(0.855);transform-origin:left 0;">1.56%</div>
<div style="position:absolute;top:462.84px;font-size:12px;line-height:12px;font-weight:normal;color:#000;white-space:pre;left:97.6px;transform:scaleX(0.897);transform-origin:left 0;">Each grid line = 1.382 secs/day</div>
<div style="position:absolute;top:462.62px;font-size:12.5px;line-height:12.5px;font-weight:bold;color:#000;white-space:pre;left:284.5px;width:400px;text-align:center;transform:scaleX(0.962);transform-origin:center 0;">SLOW</div>
</body></html>
